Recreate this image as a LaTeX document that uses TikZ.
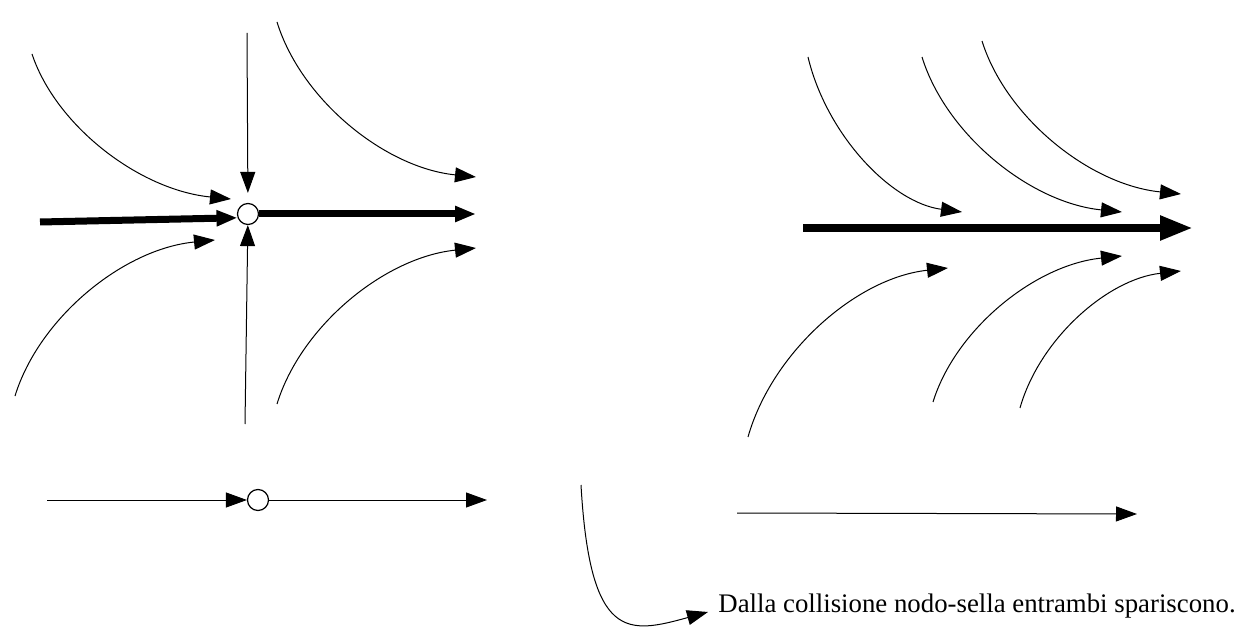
\documentclass[tikz,border=0pt]{standalone}
\usepackage{fontspec}
\setmainfont{Liberation Serif}
\usetikzlibrary{arrows.meta}

\tikzset{
  flow/.style={-{Triangle[length=10.5pt, width=7.5pt]}, line width=0.5pt},
  thickflow/.style={-{Triangle[length=10.5pt, width=7.5pt]}, line width=3.5pt},
  bigflow/.style={-{Triangle[length=16.5pt, width=11.5pt]}, line width=4pt},
  fixpt/.style={circle, draw, fill=white, line width=0.6pt, minimum size=10.5pt, inner sep=0pt}
}

\begin{document}
\begin{tikzpicture}[x=0.5pt, y=-0.5pt]
    \useasboundingbox (0,0) rectangle (1239,631);

    % Saddle-node point and its invariant lines
    \node[fixpt] (sn) at (248,214) {};
    \draw[thickflow] (40,222) -- (sn.200);
    \draw[thickflow] (sn) -- (476,214);
    \draw[flow, shorten >=5pt] (247,33) -- (sn);
    \draw[flow] (245,424) -- (sn);

    % Trajectories around the saddle-node
    \draw[flow] (32,54) .. controls (56,126) and (139.5,190) .. (231,199);
    \draw[flow] (15,396) .. controls (39,318) and (123,249) .. (215,240);
    \draw[flow] (277,22) .. controls (301,99.5) and (384.5,167.7) .. (476,177);
    \draw[flow] (277,404) .. controls (301,326) and (384.5,257.4) .. (476,248);

    % After the collision: no fixed point left
    \draw[bigflow] (803,228) -- (1193,228);
    \draw[flow] (808,57) .. controls (826.5,134.5) and (891,202.7) .. (962,212);
    \draw[flow] (922,57) .. controls (946,134.5) and (1030,202.7) .. (1122,212);
    \draw[flow] (982,41) .. controls (1006,117.5) and (1089.5,184.8) .. (1181,194);
    \draw[flow] (748,437) .. controls (772,352.5) and (856,278) .. (948,268);
    \draw[flow] (933,402) .. controls (955.7,329) and (1035,264.8) .. (1122,256);
    \draw[flow] (1020,408) .. controls (1039.3,339.5) and (1107,279.2) .. (1181,271);

    % Phase lines
    \node[fixpt] (snline) at (258,500) {};
    \draw[flow] (47,500) -- (snline);
    \draw[flow] (snline) -- (487,500);
    \draw[flow] (737,513) -- (1137,514);

    % Note
    \node[anchor=base west, inner xsep=5pt, inner ysep=0pt, font=\fontsize{13.4}{15}\selectfont]
        (note) at (708,612) {Dalla collisione nodo-sella entrambi spariscono.};
    \draw[flow] (581,485) .. controls (590,642) and (628,634) .. (note.base west);
\end{tikzpicture}
\end{document}
